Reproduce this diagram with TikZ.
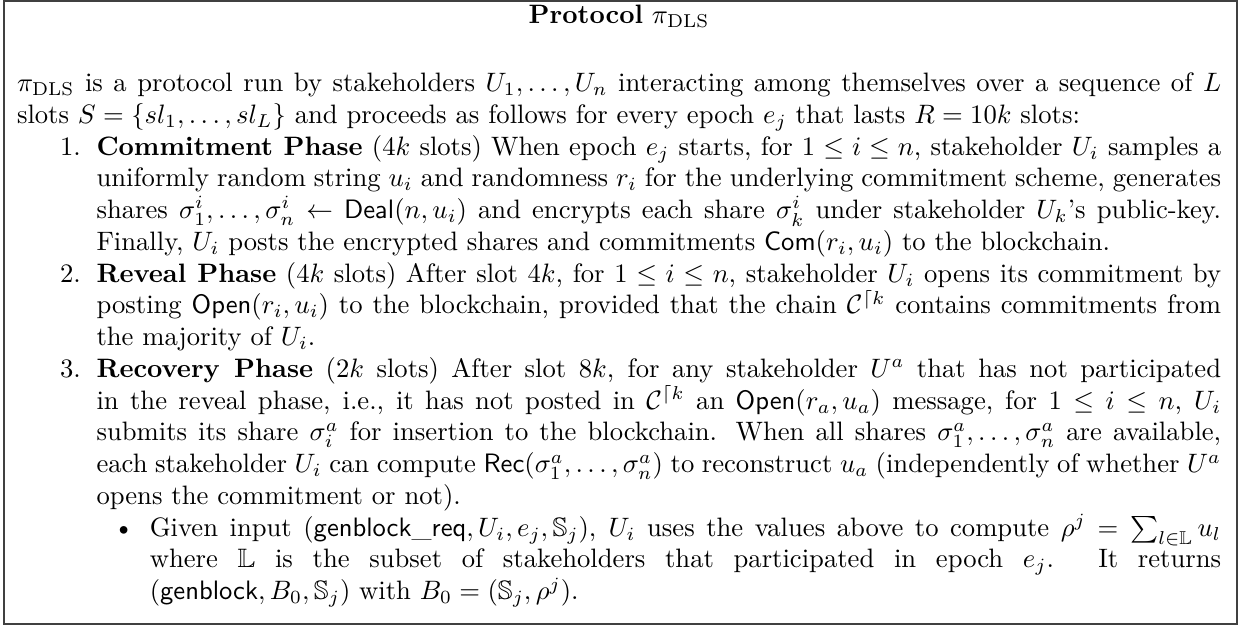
\documentclass[tikz,border=0pt]{standalone}
\usepackage{amsmath,amssymb}
\usepackage{enumitem}
\begin{document}
\begin{tikzpicture}[x=1pt,y=1pt]
\tikzset{
  framebox/.style={draw=black!75, line width=0.6pt},
  titletext/.style={anchor=base, inner sep=0pt},
  bodytext/.style={anchor=north west, text width=452pt, inner sep=0pt, align=justify}
}
\useasboundingbox (0,0) rectangle (465.1,-235.4);
\draw[framebox] (1.5,-0.45) rectangle (464.3,-234.2);
\node[titletext] (title) at (232.4,-9.0) {\textbf{Protocol} $\pi_{\mathrm{DLS}}$};
\node[bodytext] (body) at (6.19,-25.85) {\fontsize{10pt}{11.92pt}\selectfont\strut$\pi_{\mathrm{DLS}}$ is a protocol run by stakeholders $U_1,\ldots,U_n$ interacting among themselves over a sequence of $L$ slots $S=\{sl_1,\ldots,sl_L\}$ and proceeds as follows for every epoch $e_j$ that lasts $R=10k$ slots:
\begin{enumerate}[leftmargin=29.85pt, labelsep=5.9pt, labelwidth=23.9pt, align=right, nosep]
\item \textbf{Commitment Phase} ($4k$ slots) When epoch $e_j$ starts, for $1\le i\le n$, stakeholder $U_i$ samples a uniformly random string $u_i$ and randomness $r_i$ for the underlying commitment scheme, generates shares $\sigma_1^i,\ldots,\sigma_n^i \leftarrow \mathsf{Deal}(n,u_i)$ and encrypts each share $\sigma_k^i$ under stakeholder $U_k$'s public-key. Finally, $U_i$ posts the encrypted shares and commitments $\mathsf{Com}(r_i,u_i)$ to the blockchain.
\item \textbf{Reveal Phase} ($4k$ slots) After slot $4k$, for $1\le i\le n$, stakeholder $U_i$ opens its commitment by posting $\mathsf{Open}(r_i,u_i)$ to the blockchain, provided that the chain $\mathcal{C}^{\lceil k}$ contains commitments from the majority of $U_i$.
\item \textbf{Recovery Phase} ($2k$ slots) After slot $8k$, for any stakeholder $U^a$ that has not participated in the reveal phase, i.e., it has not posted in $\mathcal{C}^{\lceil k}$ an $\mathsf{Open}(r_a,u_a)$ message, for $1\le i\le n$, $U_i$ submits its share $\sigma_i^a$ for insertion to the blockchain. When all shares $\sigma_1^a,\ldots,\sigma_n^a$ are available, each stakeholder $U_i$ can compute $\mathsf{Rec}(\sigma_1^a,\ldots,\sigma_n^a)$ to reconstruct $u_a$ (independently of whether $U^a$ opens the commitment or not).
\begin{itemize}[leftmargin=20pt, nosep]
\item Given input $(\mathsf{genblock\_req},U_i,e_j,\mathbb{S}_j)$, $U_i$ uses the values above to compute $\rho^j=\sum_{l\in\mathbb{L}}u_l$ where $\mathbb{L}$ is the subset of stakeholders that participated in epoch $e_j$. It returns $(\mathsf{genblock},B_0,\mathbb{S}_j)$ with $B_0=(\mathbb{S}_j,\rho^j)$.
\end{itemize}
\end{enumerate}};
\end{tikzpicture}
\end{document}
